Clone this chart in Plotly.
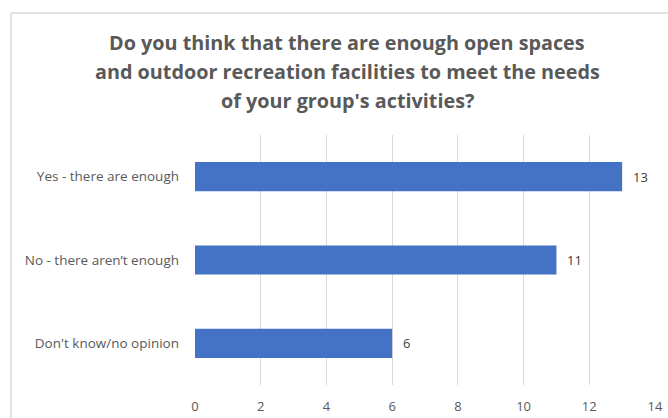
import plotly.graph_objects as go

# Survey responses
categories = ["Yes - there are enough", "No - there aren\u2019t enough", "Don't know/no opinion"]
counts = [13, 11, 6]
x_ticks = [0, 2, 4, 6, 8, 10, 12, 14]

title_lines = [
    "Do you think that there are enough open spaces",
    "and outdoor recreation facilities to meet the needs",
    "of your group's activities?",
]

FONT = "Open Sans"
W, H = 668, 418
L, R, T, B = 195, 13, 135, 33
pw, ph = W - L - R, H - T - B

fig = go.Figure()
fig.add_trace(go.Bar(
    y=categories,
    x=counts,
    orientation="h",
    marker=dict(color="#4472C4", line=dict(width=0)),
    width=0.35,
    hoverinfo="skip",
))

# value labels just past the bar ends
for cat, val in zip(categories, counts):
    fig.add_annotation(
        x=val, y=cat, xref="x", yref="y", text=str(val),
        showarrow=False, xanchor="left", xshift=9,
        font=dict(family=FONT, size=13, color="#404040"),
    )

# three-line title
title_y = [43, 71, 100]
for line, ypx in zip(title_lines, title_y):
    fig.add_annotation(
        x=(347 - L) / pw, y=(H - B - ypx) / ph, xref="paper", yref="paper",
        text=f"<b>{line}</b>", showarrow=False, xanchor="center", yanchor="middle",
        font=dict(family=FONT, size=19.8, color="#595959"),
    )

# chart-area frame (left and top edges visible)
def px_x(p):
    return (p - L) / pw

def px_y(p):
    return (H - B - p) / ph

fig.add_shape(type="line", xref="paper", yref="paper",
              x0=px_x(11), x1=px_x(11), y0=px_y(13), y1=px_y(430),
              line=dict(color="#D9D9D9", width=1.5))
fig.add_shape(type="line", xref="paper", yref="paper",
              x0=px_x(11), x1=px_x(690), y0=px_y(13), y1=px_y(13),
              line=dict(color="#D9D9D9", width=1.5))

fig.update_layout(
    width=W, height=H,
    margin=dict(l=L, r=R, t=T, b=B),
    paper_bgcolor="white", plot_bgcolor="white",
    showlegend=False,
    xaxis=dict(
        range=[0, 14], tickvals=x_ticks, ticktext=[str(v) for v in x_ticks],
        showgrid=True, gridcolor="#D9D9D9", gridwidth=1,
        zeroline=False, showline=False, ticks="",
        ticklabelstandoff=12, automargin=False,
        tickfont=dict(family=FONT, size=13, color="#595959"),
        fixedrange=True,
    ),
    yaxis=dict(
        categoryorder="array", categoryarray=categories[::-1],
        showgrid=False, zeroline=False, showline=False, ticks="",
        ticklabelstandoff=15, automargin=False,
        tickfont=dict(family=FONT, size=13.5, color="#595959"),
        fixedrange=True,
    ),
)

fig.write_html("out.html")
